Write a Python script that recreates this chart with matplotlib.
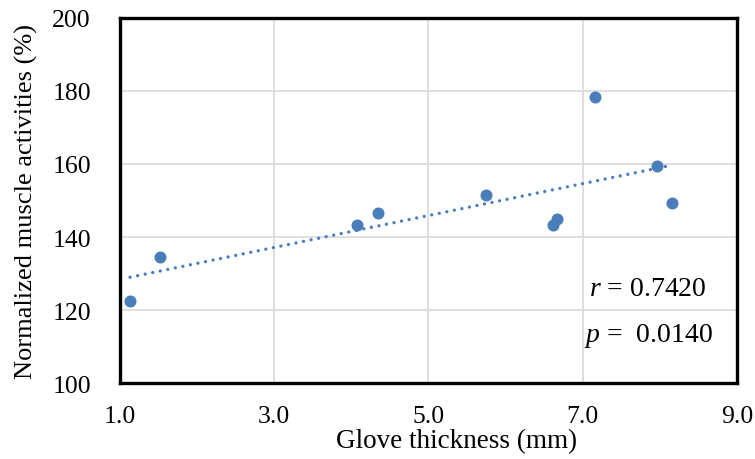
import numpy as np
import matplotlib
matplotlib.use("Agg")
import matplotlib.pyplot as plt

plt.rcParams['font.family'] = ['Liberation Serif', 'DejaVu Serif']
plt.rcParams['mathtext.fontset'] = 'custom'
plt.rcParams['mathtext.it'] = 'Liberation Serif:italic'
plt.rcParams['mathtext.rm'] = 'Liberation Serif'

thickness = [1.13, 1.52, 4.07, 4.35, 5.75, 6.62, 6.67, 7.16, 7.96, 8.16]
activity = [122.5, 134.4, 143.2, 146.7, 151.4, 143.2, 145.0, 178.3, 159.5, 149.4]
x_ticks = [1.0, 3.0, 5.0, 7.0, 9.0]
y_ticks = [100, 120, 140, 160, 180, 200]
r_text = "$r$ = 0.7420"
p_text = "$p$ =  0.0140"

fig = plt.figure(figsize=(7.55, 4.6), dpi=100)
ax = fig.add_axes([0.159, 0.165, 0.817, 0.794])

color = '#4A7EBB'
ax.scatter(thickness, activity, s=75, color=color, zorder=3, linewidths=0)

coef = np.polyfit(thickness, activity, 1)
xs = np.array([min(thickness), max(thickness)])
ax.plot(xs, np.polyval(coef, xs), color=color, lw=2.4,
        linestyle=(0, (0.01, 2.3)), dash_capstyle='round', zorder=2)

ax.set_xlim(1.0, 9.0)
ax.set_ylim(100, 200)
ax.set_xticks(x_ticks)
ax.set_xticklabels([f"{v:.1f}" for v in x_ticks])
ax.set_yticks(y_ticks)
ax.tick_params(length=0, labelsize=18.5)
ax.tick_params(axis='y', pad=21)
ax.tick_params(axis='x', pad=16)
ax.grid(True, color='#d9d9d9', lw=1.2)
ax.set_axisbelow(True)
for s in ax.spines.values():
    s.set_linewidth(2.4)
    s.set_color('black')

ax.set_xlabel("Glove thickness (mm)", fontsize=19.5)
ax.xaxis.set_label_coords(0.545, -0.122)
ax.set_ylabel("Normalized muscle activities (%)", fontsize=19)
ax.yaxis.set_label_coords(-0.133, 0.5)

ax.text(7.08, 125.8, r_text, fontsize=20, ha='left', va='center')
ax.text(7.02, 113.2, p_text, fontsize=20, ha='left', va='center')

fig.savefig("out.png", dpi=100)
